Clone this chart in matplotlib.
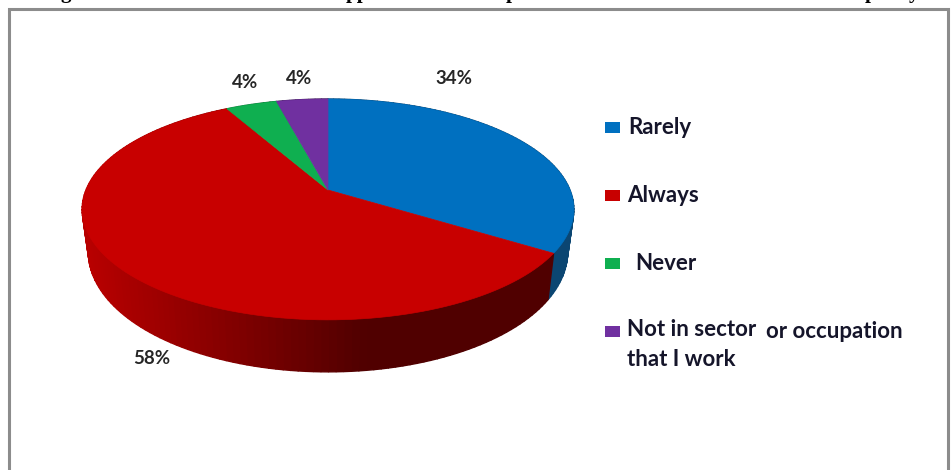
import numpy as np
import matplotlib
matplotlib.use("Agg")
import matplotlib.pyplot as plt
from matplotlib.patches import Polygon, Rectangle

categories = ["Rarely", "Always", "Never", "Not in sector"]
values = [34, 58, 4, 4]
pct_labels = ["34%", "58%", "4%", "4%"]
colors = ["#0070C0", "#C80000", "#0FAF50", "#7030A0"]

W, H = 951, 470
fig = plt.figure(figsize=(W / 100, H / 100), dpi=100)
ax = fig.add_axes([0, 0, 1, 1])
ax.set_xlim(0, W)
ax.set_ylim(H, 0)
ax.axis("off")

FONT = "Lato"
CX, CY, A, B, K = 328, 190, 107, 242, 0.176


def project(theta):
    """Clockwise angle from 12 o'clock to the perspective top face."""
    u, v = np.sin(theta), np.cos(theta)
    d = 1 + K * v
    return CX + B * u / d, CY - A * v / d, v


def bottom(theta):
    x, y, v = project(theta)
    return CX + (x - CX) * 0.975, y + 40 - 12 * v


def wall_colour(base, x):
    t = np.clip((x - 85) / 280, 0, 1)
    f = 0.92 - 0.52 * t
    rgb = np.array(matplotlib.colors.to_rgb(base))
    return tuple(rgb * f)


fracs = np.array(values, dtype=float) / sum(values)
edges = np.concatenate([[0], np.cumsum(fracs)]) * 2 * np.pi

# side walls
for i, c in enumerate(colors):
    th = np.linspace(edges[i], edges[i + 1], max(3, int(fracs[i] * 240)))
    for a0, a1 in zip(th[:-1], th[1:]):
        x0, y0, _ = project(a0)
        x1, y1, _ = project(a1)
        bx0, by0 = bottom(a0)
        bx1, by1 = bottom(a1)
        fc = wall_colour(c, (x0 + x1) / 2)
        if i == 0:
            fc = "#0B4672"
        ax.add_patch(Polygon([(x0, y0), (x1, y1), (bx1, by1), (bx0, by0)],
                             closed=True, fc=fc, ec=fc, lw=1.0, zorder=2))

# top face
for i, c in enumerate(colors):
    th = np.linspace(edges[i], edges[i + 1], 120)
    x, y, _ = project(th)
    pts = [(CX, CY)] + list(zip(x, y))
    ax.add_patch(Polygon(pts, closed=True, fc=c, ec=c, lw=0.5, zorder=3))

# data labels
label_pos = [(454, 78), (152, 358), (245, 83), (299, 78)]
for s, (x, y) in zip(pct_labels, label_pos):
    ax.text(x, y, s, ha="center", va="center", fontsize=13.5, fontweight="bold",
            family=FONT, color="#262626", zorder=5)

# legend
swatch_y = [127.5, 195.5, 263.5, 331]
text_pos = [(628, 128), (627, 196), (635, 264), (627, 330)]
for name, c, sy, (tx, ty) in zip(categories, colors, swatch_y, text_pos):
    ax.add_patch(Rectangle((605, sy - 5.5), 15, 11, fc=c, ec="none", zorder=5))
    ax.text(tx, ty, name, ha="left", va="center", fontsize=16, fontweight="bold",
            family=FONT, color="#15152a", zorder=5)
ax.text(766, 331, "or occupation", ha="left", va="center", fontsize=16,
        fontweight="bold", family=FONT, color="#15152a", zorder=5)
ax.text(627, 359, "that I work", ha="left", va="center", fontsize=16,
        fontweight="bold", family=FONT, color="#15152a", zorder=5)

# frame (open at the bottom edge of the crop)
ax.plot([9, 9, 948, 948], [H, 9, 9, H], color="#8c8c8c", lw=2.2, zorder=6,
        solid_joinstyle="miter")

# caption cropped by the top edge: only its descenders remain
for s, x in [("g", 66), ("pp", 357), ("p", 512), ("p", 871), ("y", 914)]:
    ax.text(x, -2, s, ha="center", va="baseline", fontsize=15, fontweight="bold",
            family="Liberation Serif", color="black", clip_on=False)

fig.savefig("out.png", dpi=100, facecolor="white")
